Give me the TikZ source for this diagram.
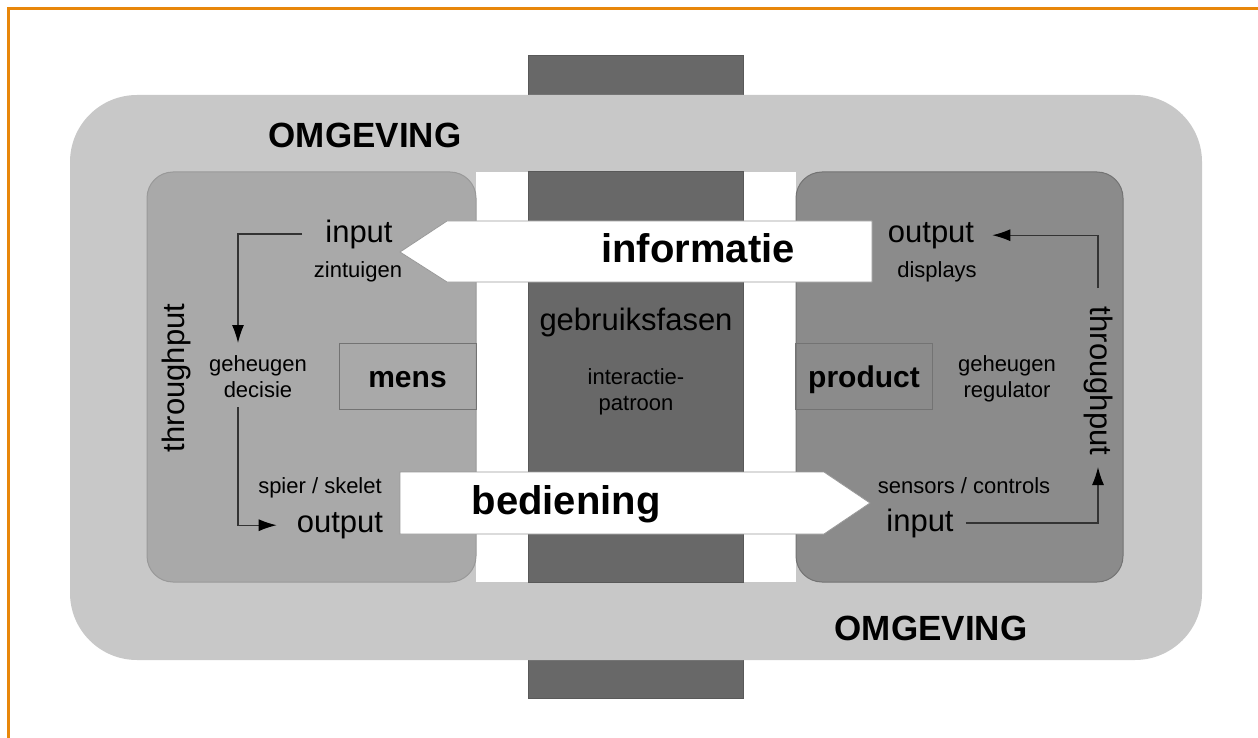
\documentclass[tikz,border=0pt]{standalone}
\usepackage{fontspec}
\setmainfont{Liberation Sans}
\usetikzlibrary{arrows.meta}

\definecolor{frameorange}{HTML}{E8870A}
\definecolor{envgray}{HTML}{C8C8C8}
\definecolor{mensgray}{HTML}{A9A9A9}
\definecolor{prodgray}{HTML}{8B8B8B}
\definecolor{phasegray}{HTML}{686868}

\tikzset{
    labelbig/.style={font=\fontsize{31}{31}\selectfont, anchor=base, inner sep=0},
    labelsmall/.style={font=\fontsize{22}{22}\selectfont, anchor=base, inner sep=0},
    labelenv/.style={font=\fontsize{35}{35}\selectfont\bfseries, anchor=base, inner sep=0},
    labelarrow/.style={font=\fontsize{40}{40}\selectfont\bfseries, anchor=base, inner sep=0},
    system box/.style={draw=black!55, line width=1pt, minimum width=137pt, minimum height=66pt,
        inner sep=0, text height=25pt, text depth=3pt, font=\fontsize{30}{30}\selectfont\bfseries},
    unit/.style={rounded corners=26pt, line width=1pt},
    signal/.style={fill=white, draw=black!40, line width=0.8pt},
    flow/.style={draw=black!80, line width=1.2pt, -{Latex[length=18pt,width=12pt,color=black]}}
    }

\begin{document}
\begin{tikzpicture}[x=1pt,y=-1pt]
    \useasboundingbox (0,0) rectangle (1258,738);
    \draw[frameorange, line width=3pt] (8,738) -- (8,9) -- (1258,9);

    % gebruiksfasen column and omgeving
    \draw[fill=phasegray, draw=black!65, line width=1pt] (528,56) rectangle (743,698);
    \fill[envgray, rounded corners=67pt] (70,95) rectangle (1202,660);
    \fill[white] (476,172) rectangle (796,582);
    \draw[fill=phasegray, draw=black!65, line width=1pt] (528,172) rectangle (743,582);

    % mens and product
    \draw[unit, fill=mensgray, draw=black!40] (147,172) rectangle (476,582);
    \draw[unit, fill=prodgray, draw=black!55] (796,172) rectangle (1123,582);
    \node[system box] (mens) at (407.5,376) {mens};
    \node[system box] (product) at (864,376) {product};

    % informatie and bediening
    \draw[signal] (872,221) -- (447,221) -- (400,252) -- (447,282) -- (872,282) -- cycle;
    \draw[signal] (400,472) -- (824,472) -- (870,503) -- (824,534) -- (400,534) -- cycle;
    \node[labelarrow] (info) at (698,262) {informatie};
    \node[labelarrow] (bed) at (566,514) {bediening};

    \node[labelenv] (envTop) at (365,148) {OMGEVING};
    \node[labelenv] (envBot) at (931,640) {OMGEVING};

    \node[labelbig] (phase) at (636,330) {gebruiksfasen};
    \node[labelsmall] (pattern1) at (636,384) {interactie-};
    \node[labelsmall] (pattern2) at (636,410) {patroon};

    % mens side
    \node[labelbig] (inL) at (359,242) {input};
    \node[labelsmall] (senseL) at (358,277) {zintuigen};
    \node[labelsmall] (memL1) at (258,371) {geheugen};
    \node[labelsmall] (memL2) at (258,397) {decisie};
    \node[labelsmall] (muscle) at (320,493) {spier / skelet};
    \node[labelbig] (outL) at (340,532) {output};
    \node[labelbig, rotate=90, anchor=center] (thrL) at (176,378) {throughput};

    % product side
    \node[labelbig] (outR) at (931,242) {output};
    \node[labelsmall] (disp) at (937,277) {displays};
    \node[labelsmall] (memR1) at (1007,371) {geheugen};
    \node[labelsmall] (memR2) at (1007,397) {regulator};
    \node[labelsmall] (sens) at (964,493) {sensors / controls};
    \node[labelbig] (inR) at (920,531) {input};
    \node[labelbig, rotate=-90, anchor=center] (thrR) at (1099,381) {throughput};

    \coordinate (memLtop) at (238,343);
    \coordinate (memLbot) at (238,407);
    \coordinate (thrRtop) at (1098,288);
    \coordinate (thrRbot) at (1098,467);

    \draw[flow, shorten <=23pt] (inL.west) -| (memLtop);
    \draw[flow, shorten >=20pt] (memLbot) |- (outL.west);
    \draw[flow, shorten >=18pt] (thrRtop) |- (outR.east);
    \draw[flow, shorten <=12pt] (inR.east) -| (thrRbot);
\end{tikzpicture}
\end{document}
